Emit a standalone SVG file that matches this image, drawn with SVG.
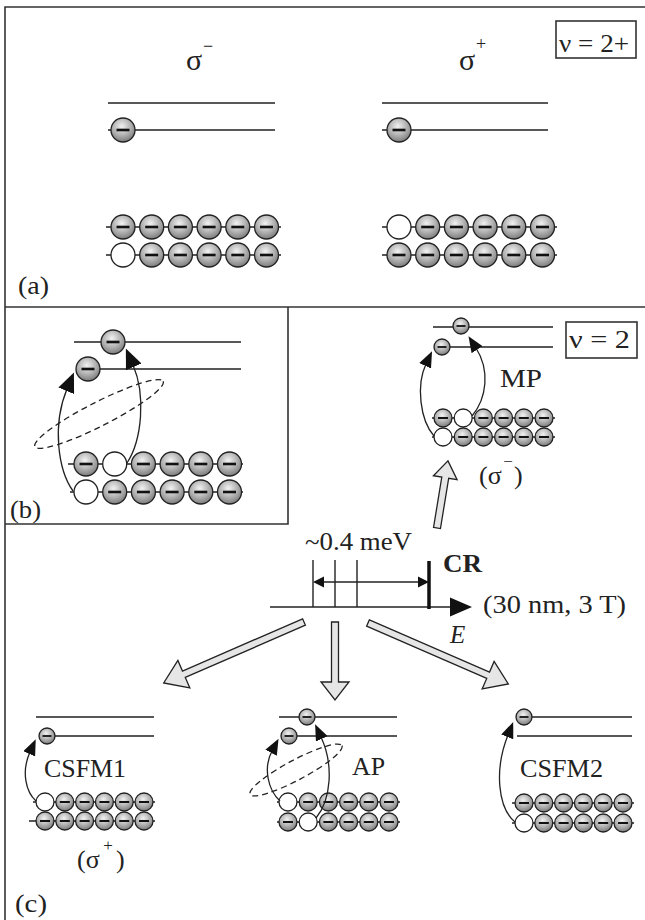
<svg xmlns="http://www.w3.org/2000/svg" width="645" height="920" viewBox="0 0 645 920">
<style>
.fr{stroke:#333;stroke-width:1.6;fill:none}
.ln{stroke:#222;stroke-width:1.4;fill:none}
.el{fill:url(#eg);stroke:#222;stroke-width:1.3}
.ho{fill:#fff;stroke:#222;stroke-width:1.3}
.cv{stroke:#222;stroke-width:1.3;fill:none}
.dash{stroke:#222;stroke-width:1.3;fill:none;stroke-dasharray:6 4}
.blk{fill:#e6e6e6;stroke:#222;stroke-width:1.3}
.t{font-family:"Liberation Serif","Times New Roman",serif;fill:#222}
.bar{fill:#111}
</style>
<defs>
<radialGradient id="eg" cx="45%" cy="35%" r="65%">
<stop offset="0" stop-color="#f2f2f2"/>
<stop offset="0.55" stop-color="#b4b4b4"/>
<stop offset="1" stop-color="#7c7c7c"/>
</radialGradient>
<g id="eL"><circle r="12" class="el"/><rect class="bar" x="-6.5" y="-1.3" width="13" height="2.6"/></g>
<g id="hL"><circle r="12" class="ho"/></g>
<g id="eS"><circle r="9" class="el"/><rect class="bar" x="-5" y="-1" width="10" height="2"/></g>
<g id="hS"><circle r="9" class="ho"/></g>
<g id="eT"><circle r="8" class="el"/><rect class="bar" x="-4.5" y="-0.9" width="9" height="1.8"/></g>
<marker id="ahL" markerUnits="userSpaceOnUse" markerWidth="20" markerHeight="17" viewBox="0 0 20 17" refX="2" refY="8.5" orient="auto"><path d="M0,0 L20,8.5 L0,17 z" fill="#111"/></marker>
<marker id="ahS" markerUnits="userSpaceOnUse" markerWidth="16" markerHeight="13" viewBox="0 0 16 13" refX="2" refY="6.5" orient="auto"><path d="M0,0 L16,6.5 L0,13 z" fill="#111"/></marker>
</defs>
<rect width="645" height="920" fill="#fff"/>

<g id="frame">
<path class="fr" d="M5,920 V7 H645"/>
<path class="fr" d="M5,307 H645"/>
<path class="fr" d="M288,307 V524 H5"/>
</g>

<g id="panel-a">
<text class="t" x="18" y="294" font-size="26" textLength="31" lengthAdjust="spacingAndGlyphs">(a)</text>
<rect x="556" y="21" width="80" height="37" class="fr" stroke-width="1.3"/>
<text class="t" x="559" y="52" font-size="26" textLength="70" lengthAdjust="spacingAndGlyphs">ν = 2+</text>
</g>

<g id="a-sigma-minus">
<text class="t" x="186" y="70" font-size="30">σ</text>
<text class="t" x="208" y="52" font-size="18" text-anchor="middle">−</text>
<path class="ln" d="M108,103 H275 M108,130 H275"/>
<use href="#eL" x="123" y="130"/>
<path class="ln" d="M106,227 H281 M106,255 H281"/>
<use href="#eL" x="123" y="227"/><use href="#eL" x="151.7" y="227"/><use href="#eL" x="180.4" y="227"/><use href="#eL" x="209.1" y="227"/><use href="#eL" x="237.8" y="227"/><use href="#eL" x="266.5" y="227"/>
<use href="#hL" x="123" y="255"/><use href="#eL" x="151.7" y="255"/><use href="#eL" x="180.4" y="255"/><use href="#eL" x="209.1" y="255"/><use href="#eL" x="237.8" y="255"/><use href="#eL" x="266.5" y="255"/>
</g>

<g id="a-sigma-plus">
<text class="t" x="459" y="70" font-size="30">σ</text>
<text class="t" x="481" y="50" font-size="18" text-anchor="middle">+</text>
<path class="ln" d="M382,103 H548 M382,130 H548"/>
<use href="#eL" x="399" y="130"/>
<path class="ln" d="M382,227 H557 M382,255 H557"/>
<use href="#hL" x="399" y="227"/><use href="#eL" x="427.7" y="227"/><use href="#eL" x="456.4" y="227"/><use href="#eL" x="485.1" y="227"/><use href="#eL" x="513.8" y="227"/><use href="#eL" x="542.5" y="227"/>
<use href="#eL" x="399" y="255"/><use href="#eL" x="427.7" y="255"/><use href="#eL" x="456.4" y="255"/><use href="#eL" x="485.1" y="255"/><use href="#eL" x="513.8" y="255"/><use href="#eL" x="542.5" y="255"/>
</g>

<g id="panel-b">
<text class="t" x="10" y="518" font-size="26" textLength="31" lengthAdjust="spacingAndGlyphs">(b)</text>
<path class="ln" d="M74,342 H241 M88,369 H241"/>
<use href="#eL" x="113" y="342"/>
<use href="#eL" x="88" y="369"/>
<ellipse class="dash" cx="99" cy="414" rx="72" ry="12" transform="rotate(-27 99 414)"/>
<path class="ln" d="M68,464 H243 M70,492 H243"/>
<use href="#eL" x="86" y="464"/><use href="#hL" x="114.7" y="464"/><use href="#eL" x="143.4" y="464"/><use href="#eL" x="172.1" y="464"/><use href="#eL" x="200.8" y="464"/><use href="#eL" x="229.5" y="464"/>
<use href="#hL" x="86" y="492"/><use href="#eL" x="114.7" y="492"/><use href="#eL" x="143.4" y="492"/><use href="#eL" x="172.1" y="492"/><use href="#eL" x="200.8" y="492"/><use href="#eL" x="229.5" y="492"/>
<path class="cv" d="M73,491 C58,470 52,425 67,389" marker-end="url(#ahL)"/>
<path class="cv" d="M127,463 C142,440 146,395 133,365" marker-end="url(#ahL)"/>
</g>

<g id="MP">
<rect x="566" y="322" width="71" height="36" class="fr" stroke-width="1.3"/>
<text class="t" x="569" y="348" font-size="26" textLength="61" lengthAdjust="spacingAndGlyphs">ν = 2</text>
<path class="ln" d="M433,327 H553 M442,347 H553"/>
<use href="#eT" x="461" y="326"/>
<use href="#eT" x="442" y="347"/>
<text class="t" x="500" y="387" font-size="25" textLength="42" lengthAdjust="spacingAndGlyphs">MP</text>
<path class="ln" d="M432,418 H555 M432,437 H555"/>
<use href="#eS" x="443" y="418"/><use href="#hS" x="463.2" y="418"/><use href="#eS" x="483.4" y="418"/><use href="#eS" x="503.6" y="418"/><use href="#eS" x="523.8" y="418"/><use href="#eS" x="544" y="418"/>
<use href="#hS" x="443" y="437"/><use href="#eS" x="463.2" y="437"/><use href="#eS" x="483.4" y="437"/><use href="#eS" x="503.6" y="437"/><use href="#eS" x="523.8" y="437"/><use href="#eS" x="544" y="437"/>
<path class="cv" d="M434,436 C420,420 416,385 426,364" marker-end="url(#ahS)"/>
<path class="cv" d="M472,416 C487,398 490,370 476,348" marker-end="url(#ahS)"/>
<text class="t" x="479" y="484" font-size="26">(σ</text>
<text class="t" x="508" y="467" font-size="17" text-anchor="middle">−</text>
<text class="t" x="514" y="484" font-size="26">)</text>
</g>

<g id="CR-axis">
<path class="ln" d="M270,607 H452"/>
<polygon points="450,597.5 472,607 450,616.5" fill="#111"/>
<path class="ln" d="M313,560 V607 M335,560 V607 M357,560 V607"/>
<path d="M429,561 V609" stroke="#111" stroke-width="3.5"/>
<path class="ln" d="M322,582 H420"/>
<polygon points="313,582 324,576.5 324,587.5" fill="#111"/>
<polygon points="429,582 418,576.5 418,587.5" fill="#111"/>
<text class="t" x="305" y="550" font-size="25" textLength="107" lengthAdjust="spacingAndGlyphs">~0.4 meV</text>
<text class="t" x="443" y="572" font-size="25" font-weight="bold" textLength="39" lengthAdjust="spacingAndGlyphs">CR</text>
<text class="t" x="483" y="613" font-size="25" textLength="143" lengthAdjust="spacingAndGlyphs">(30 nm, 3 T)</text>
<text class="t" x="450" y="643" font-size="25" font-style="italic">E</text>
</g>

<g id="CSFM1">
<path class="ln" d="M36,717 H154 M47,736 H154"/>
<use href="#eT" x="47" y="736"/>
<text class="t" x="44" y="777" font-size="25" textLength="82" lengthAdjust="spacingAndGlyphs">CSFM1</text>
<path class="ln" d="M33,802 H155 M29,821 H155"/>
<use href="#hS" x="45" y="802"/><use href="#eS" x="64.8" y="802"/><use href="#eS" x="84.6" y="802"/><use href="#eS" x="104.4" y="802"/><use href="#eS" x="124.2" y="802"/><use href="#eS" x="144" y="802"/>
<use href="#eS" x="45" y="821"/><use href="#eS" x="64.8" y="821"/><use href="#eS" x="84.6" y="821"/><use href="#eS" x="104.4" y="821"/><use href="#eS" x="124.2" y="821"/><use href="#eS" x="144" y="821"/>
<path class="cv" d="M36,801 C26,792 21,772 30,752" marker-end="url(#ahS)"/>
<text class="t" x="77" y="868" font-size="26">(σ</text>
<text class="t" x="108" y="851" font-size="17" text-anchor="middle">+</text>
<text class="t" x="116" y="868" font-size="26">)</text>
<text class="t" x="15" y="912" font-size="26" textLength="32" lengthAdjust="spacingAndGlyphs">(c)</text>
</g>

<g id="AP">
<path class="ln" d="M279,717 H397 M289,736 H397"/>
<use href="#eT" x="307" y="717"/>
<use href="#eT" x="289" y="736"/>
<ellipse class="dash" cx="296" cy="770" rx="52" ry="10" transform="rotate(-28 296 770)"/>
<text class="t" x="352" y="775" font-size="25" textLength="33" lengthAdjust="spacingAndGlyphs">AP</text>
<path class="ln" d="M277,802 H400 M277,822 H400"/>
<use href="#hS" x="288" y="802"/><use href="#eS" x="308.2" y="802"/><use href="#eS" x="328.4" y="802"/><use href="#eS" x="348.6" y="802"/><use href="#eS" x="368.8" y="802"/><use href="#eS" x="389" y="802"/>
<use href="#eS" x="288" y="822"/><use href="#hS" x="308.2" y="822"/><use href="#eS" x="328.4" y="822"/><use href="#eS" x="348.6" y="822"/><use href="#eS" x="368.8" y="822"/><use href="#eS" x="389" y="822"/>
<path class="cv" d="M280,801 C268,790 263,768 272,751" marker-end="url(#ahS)"/>
<path class="cv" d="M316,818 C331,800 334,765 321,737" marker-end="url(#ahS)"/>
</g>

<g id="CSFM2">
<path class="ln" d="M524,717 H632 M517,736 H632"/>
<use href="#eT" x="524" y="717"/>
<text class="t" x="520" y="777" font-size="25" textLength="83" lengthAdjust="spacingAndGlyphs">CSFM2</text>
<path class="ln" d="M512,803 H634 M512,823 H634"/>
<use href="#eS" x="524" y="803"/><use href="#eS" x="543.8" y="803"/><use href="#eS" x="563.6" y="803"/><use href="#eS" x="583.4" y="803"/><use href="#eS" x="603.2" y="803"/><use href="#eS" x="623" y="803"/>
<use href="#hS" x="524" y="823"/><use href="#eS" x="543.8" y="823"/><use href="#eS" x="563.6" y="823"/><use href="#eS" x="583.4" y="823"/><use href="#eS" x="603.2" y="823"/><use href="#eS" x="623" y="823"/>
<path class="cv" d="M515,822 C498,808 494,770 508,735" marker-end="url(#ahS)"/>
</g>

<g id="connectors">
<polygon class="blk" transform="translate(437,528) rotate(9.3)" points="-3.5,0 3.5,0 3.5,-51 12,-51 0,-68 -12,-51 -3.5,-51"/>
<polygon class="blk" transform="translate(304,622) rotate(-113.5)" points="-3.5,0 3.5,0 3.5,-131 15,-131 0,-153 -15,-131 -3.5,-131"/>
<polygon class="blk" transform="translate(335,622) rotate(180)" points="-3.5,0 3.5,0 3.5,-60 14,-60 0,-78 -14,-60 -3.5,-60"/>
<polygon class="blk" transform="translate(368,623) rotate(113.5)" points="-3.5,0 3.5,0 3.5,-131 15,-131 0,-153 -15,-131 -3.5,-131"/>
</g>
</svg>
